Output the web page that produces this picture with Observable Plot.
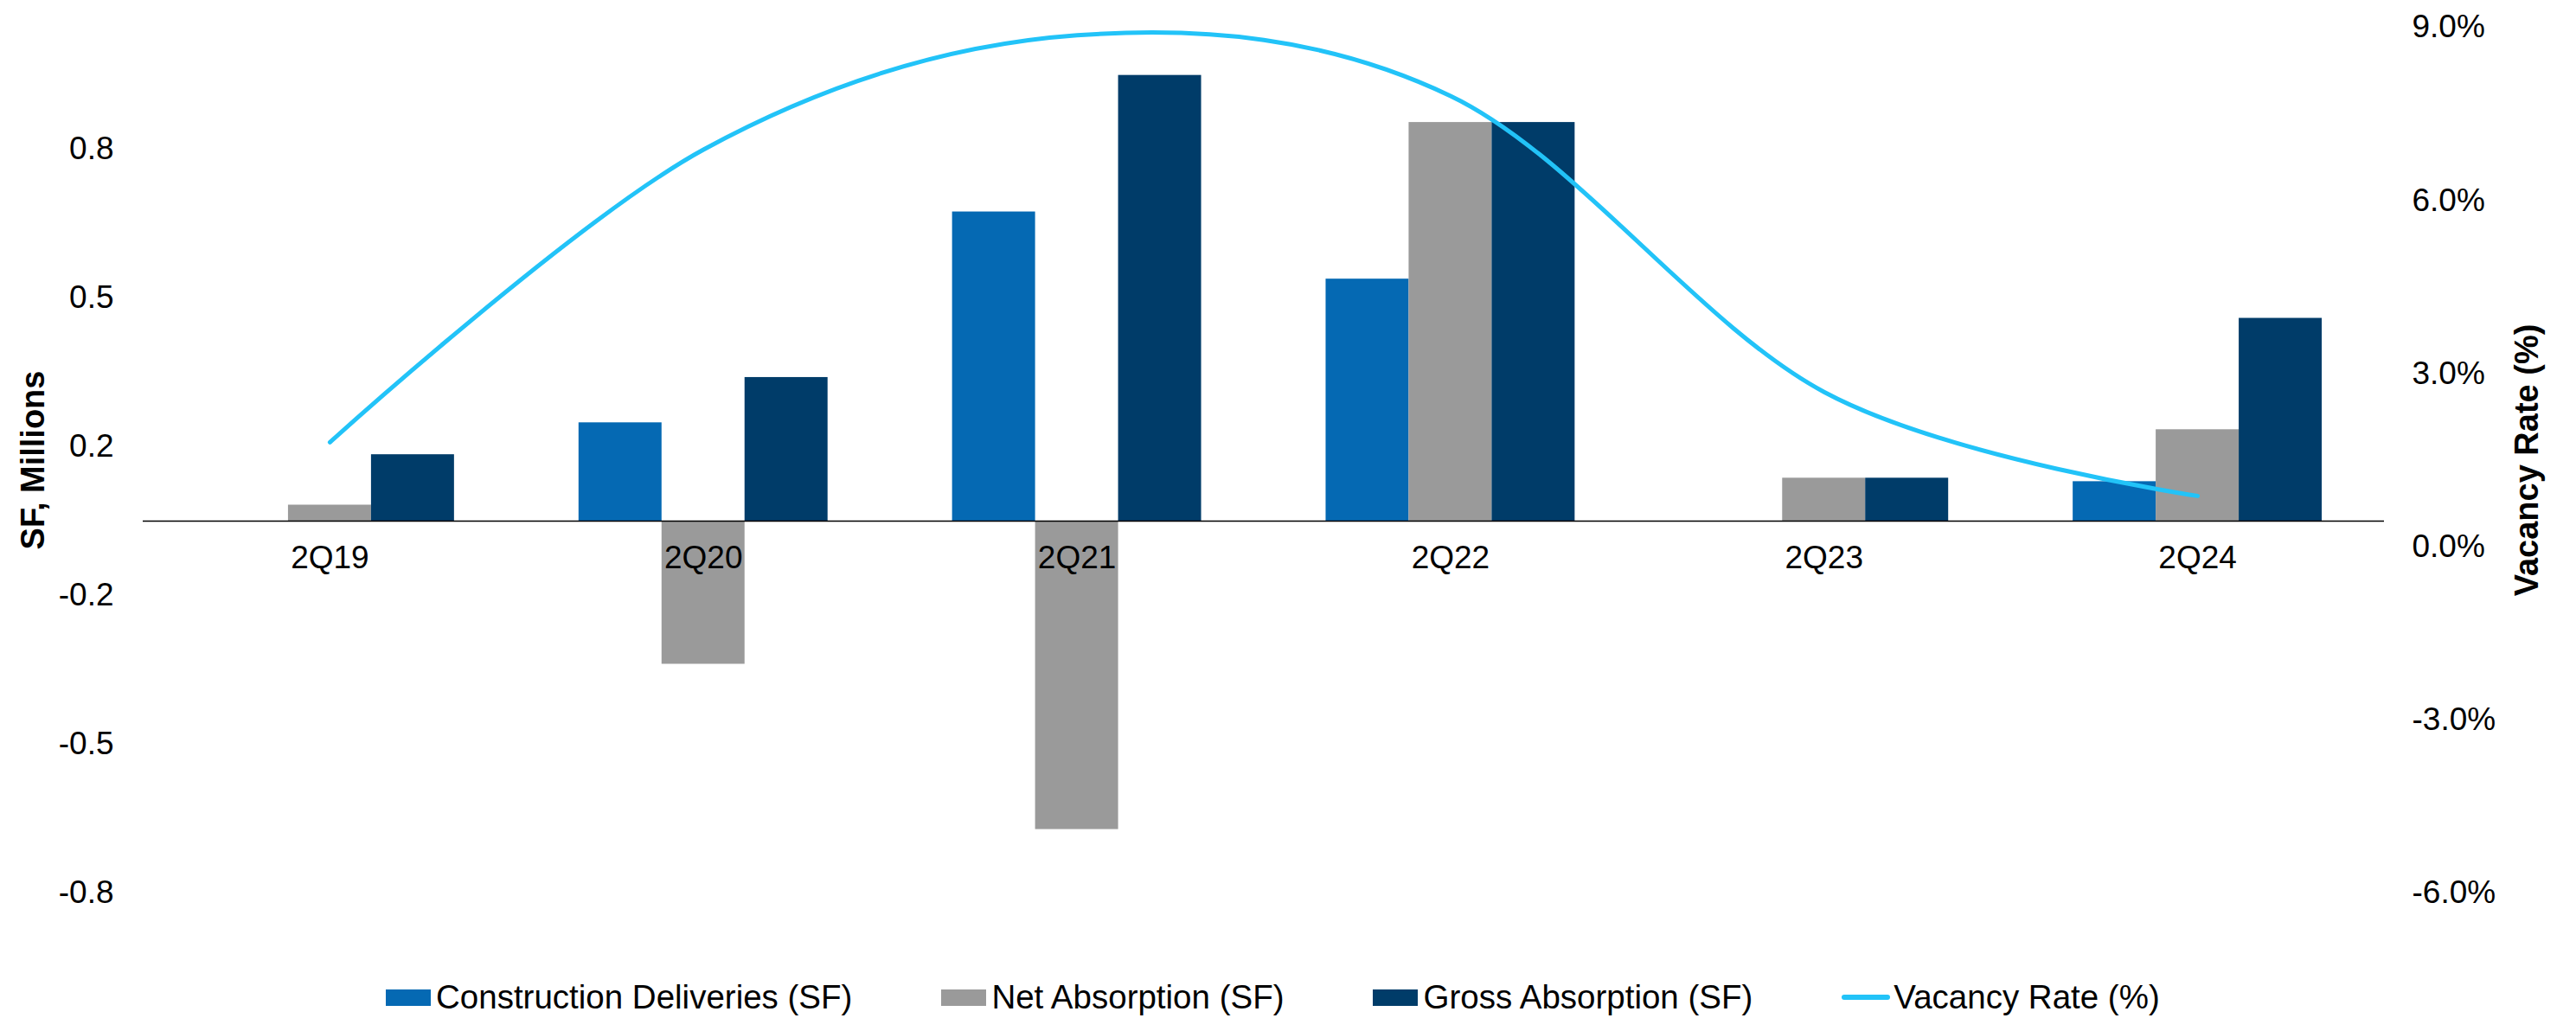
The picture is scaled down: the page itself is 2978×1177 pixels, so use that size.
<!DOCTYPE html>
<html>
<head>
<meta charset="utf-8">
<script src="https://cdn.jsdelivr.net/npm/d3@7"></script>
<script src="https://cdn.jsdelivr.net/npm/@observablehq/plot@0.6"></script>
<style>
  html, body { margin: 0; padding: 0; background: #ffffff; }
  body { width: 2978px; height: 1177px; overflow: hidden; font-family: "Liberation Sans", Arial, sans-serif; }
  #chart svg { display: block; }
  #legend { position: relative; height: 77px; display: flex; align-items: center; padding-left: 446px; padding-top: 29px; box-sizing: border-box; }
  #legend .item { display: flex; align-items: center; margin-right: 103px; font-size: 38.5px; color: #000; line-height: 40px; }
  #legend .sw { width: 52px; height: 19px; margin-right: 6px; }
  #legend .ln { width: 56px; height: 6px; border-radius: 3px; margin-right: 4px; }
</style>
</head>
<body>
<div id="chart"></div>
<div id="legend"></div>
<script>
// ---- data ----
const quarters = ["2Q19", "2Q20", "2Q21", "2Q22", "2Q23", "2Q24"];
const seriesNames = ["Construction Deliveries (SF)", "Net Absorption (SF)", "Gross Absorption (SF)"];
const lineName = "Vacancy Rate (%)";
const deliveries = [0, 0.2205, 0.693, 0.5425, 0, 0.0886];       // SF, millions
const netAbsorption = [0.036, -0.3206, -0.691, 0.8935, 0.0964, 0.205];
const grossAbsorption = [0.149, 0.322, 0.999, 0.8935, 0.0964, 0.4546];
const vacancy = [1.81, 6.88, 8.86, 7.81, 2.68, 0.88];            // %
const leftTicks = [-5/6, -1/2, -1/6, 1/6, 1/2, 5/6];
const rightTicks = [-6, -3, 0, 3, 6, 9];

// ---- styles ----
const barColors = ["#0569B3", "#9A9A9A", "#003C69"];
const lineColor = "#22C3F8";
const leftDomain = [-5/6, 1.1069];
const rightDomain = [-6, 9];

// secondary axis mapped onto primary scale units
const toLeft = d3.scaleLinear().domain(rightDomain).range(leftDomain);

const seriesValues = [deliveries, netAbsorption, grossAbsorption];
const bars = [];
quarters.forEach((q, i) => {
  seriesValues.forEach((vals, k) => {
    bars.push({i, k, series: seriesNames[k], value: vals[i]});
  });
});
const barW = 2 / 9;

const W = 2978, H = 1100;
const chart = Plot.plot({
  width: W,
  height: H,
  marginTop: 31,
  marginBottom: H - 1032,
  marginLeft: 165,
  marginRight: W - 2756,
  style: {fontFamily: "'Liberation Sans', Arial, sans-serif", fontSize: "37px", color: "#000", background: "#fff"},
  x: {type: "linear", domain: [-0.5, quarters.length - 0.5], axis: null},
  y: {domain: leftDomain, axis: null},
  color: {domain: seriesNames, range: barColors},
  marks: [
    Plot.rect(bars, {
      x1: d => d.i + (d.k - 1.5) * barW,
      x2: d => d.i + (d.k - 0.5) * barW,
      y1: d => 0,
      y2: d => d.value,
      fill: "series"
    }),
    Plot.ruleY([0], {stroke: "#000", strokeWidth: 1.5}),
    Plot.line(vacancy, {
      x: (d, i) => i,
      y: d => toLeft(d),
      curve: "cardinal",
      stroke: lineColor,
      strokeWidth: 5,
      strokeLinecap: "round",
      strokeLinejoin: "round"
    }),
    // category labels sit below the zero line
    Plot.text(quarters, {x: (d, i) => i, y: d => 0, dy: 43, text: d => d, fontSize: 37}),
    // left axis tick labels
    Plot.text(leftTicks, {y: d => d, frameAnchor: "left", dx: -34, textAnchor: "end", text: d => d.toFixed(1), fontSize: 37}),
    // right axis tick labels
    Plot.text(rightTicks, {y: d => toLeft(d), frameAnchor: "right", dx: 32, textAnchor: "start", text: d => d.toFixed(1) + "%", fontSize: 37}),
    // axis titles
    Plot.text(["SF, Millions"], {frameAnchor: "left", dx: -127, rotate: -90, textAnchor: "middle", fontWeight: "bold", fontSize: 38, text: d => d}),
    Plot.text([lineName], {frameAnchor: "right", dx: 165, rotate: -90, textAnchor: "middle", fontWeight: "bold", fontSize: 38, text: d => d})
  ]
});
document.getElementById("chart").appendChild(chart);

// ---- legend ----
const legend = document.getElementById("legend");
seriesNames.forEach((name, k) => {
  const it = document.createElement("div");
  it.className = "item";
  const sw = document.createElement("span");
  sw.className = "sw";
  sw.style.background = barColors[k];
  it.appendChild(sw);
  it.appendChild(document.createTextNode(name));
  legend.appendChild(it);
});
{
  const it = document.createElement("div");
  it.className = "item";
  const ln = document.createElement("span");
  ln.className = "ln";
  ln.style.background = lineColor;
  it.appendChild(ln);
  it.appendChild(document.createTextNode(lineName));
  legend.appendChild(it);
}
</script>
</body>
</html>
